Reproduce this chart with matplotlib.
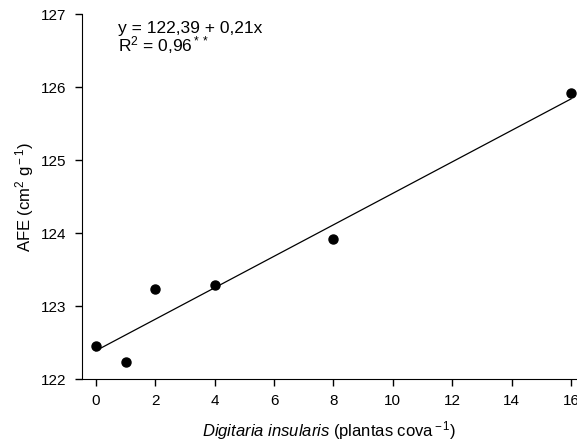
import matplotlib
matplotlib.use('Agg')
import matplotlib.pyplot as plt

plt.rcParams['font.family'] = ['Liberation Sans', 'DejaVu Sans']
plt.rcParams['mathtext.fontset'] = 'custom'
plt.rcParams['mathtext.rm'] = 'Liberation Sans'
plt.rcParams['mathtext.it'] = 'Liberation Sans:italic'

# data
plants = [0, 1, 2, 4, 8, 16]
afe = [122.46, 122.24, 123.23, 123.29, 123.92, 125.92]
fit_x = [0, 16]
fit_y = [122.39, 125.84]
xticks = [0, 2, 4, 6, 8, 10, 12, 14, 16]
yticks = [122, 123, 124, 125, 126, 127]

fig = plt.figure(figsize=(5.77, 4.44), dpi=100)
ax = fig.add_axes([0.142, 0.146, 0.858, 0.822])

ax.plot(fit_x, fit_y, '-', color='black', linewidth=0.9)
ax.plot(plants, afe, 'o', color='black', markersize=6.5, clip_on=False)

ax.set_xlim(-0.47, 16.2)
ax.set_ylim(122, 127)
ax.set_xticks(xticks)
ax.set_yticks(yticks)
ax.tick_params(direction='out', length=5, width=1, labelsize=11, pad=6)
ax.spines['top'].set_visible(False)
ax.spines['right'].set_visible(False)

ax.set_xlabel(r'$\it{Digitaria\ insularis}$ (plantas cova$^{\rm -1}$)', fontsize=12, labelpad=8)
ax.set_ylabel(r'AFE (cm$^{\rm 2}$ g$^{\rm -1}$)', fontsize=12, labelpad=4)

ax.text(0.74, 126.81, 'y = 122,39 + 0,21x', fontsize=12.5, va='center')
ax.text(0.74, 126.58, r'R$^{\rm 2}$ = 0,96$^{\rm **}$', fontsize=12.5, va='center')

fig.savefig('out.png', dpi=100)
